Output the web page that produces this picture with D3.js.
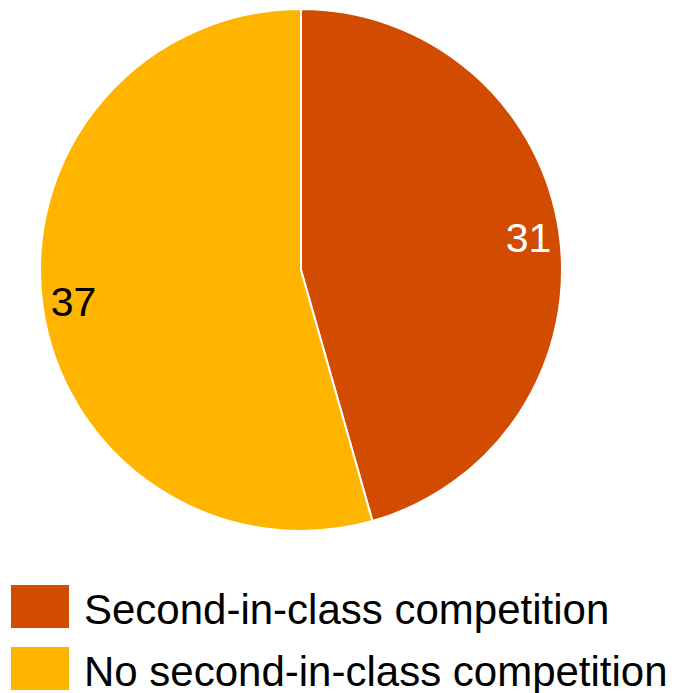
<!DOCTYPE html>
<html><head><meta charset="utf-8">
<script src="https://cdn.jsdelivr.net/npm/d3@7"></script>
<style>body{margin:0;background:#fff;} svg{display:block;}</style>
</head><body>
<svg id="c" width="677" height="693"></svg>
<script>
const categories = ["Second-in-class competition", "No second-in-class competition"];
const values = [31, 37];
const colors = ["#d14b00", "#ffb400"];
const labelColors = ["#ffffff", "#000000"];

const svg = d3.select("#c");
const cx = 301, cy = 270, r = 261;
const font = "Liberation Sans, Arial, sans-serif";

const pie = d3.pie().sort(null).value(d => d)(values);
const arc = d3.arc().innerRadius(0).outerRadius(r);
const labelArc = d3.arc().innerRadius(r * 0.88).outerRadius(r * 0.88);

const g = svg.append("g").attr("transform", `translate(${cx},${cy})`);
g.selectAll("path").data(pie).join("path")
  .attr("d", arc)
  .attr("fill", (d, i) => colors[i])
  .attr("stroke", "#fff").attr("stroke-width", 2);

g.selectAll("text").data(pie).join("text")
  .attr("transform", d => `translate(${labelArc.centroid(d)})`)
  .attr("text-anchor", "middle").attr("dominant-baseline", "central")
  .attr("font-family", font).attr("font-size", 41)
  .attr("fill", (d, i) => labelColors[i])
  .text(d => d.data);

const leg = svg.append("g");
categories.forEach((c, i) => {
  const y = 585 + i * 62;
  leg.append("rect").attr("x", 11).attr("y", y).attr("width", 58).attr("height", 43).attr("fill", colors[i]);
  leg.append("text").attr("x", 84).attr("y", y + 24).attr("dominant-baseline", "central")
    .attr("font-family", font).attr("font-size", 42).attr("fill", "#000").text(c);
});
</script>
</body></html>
